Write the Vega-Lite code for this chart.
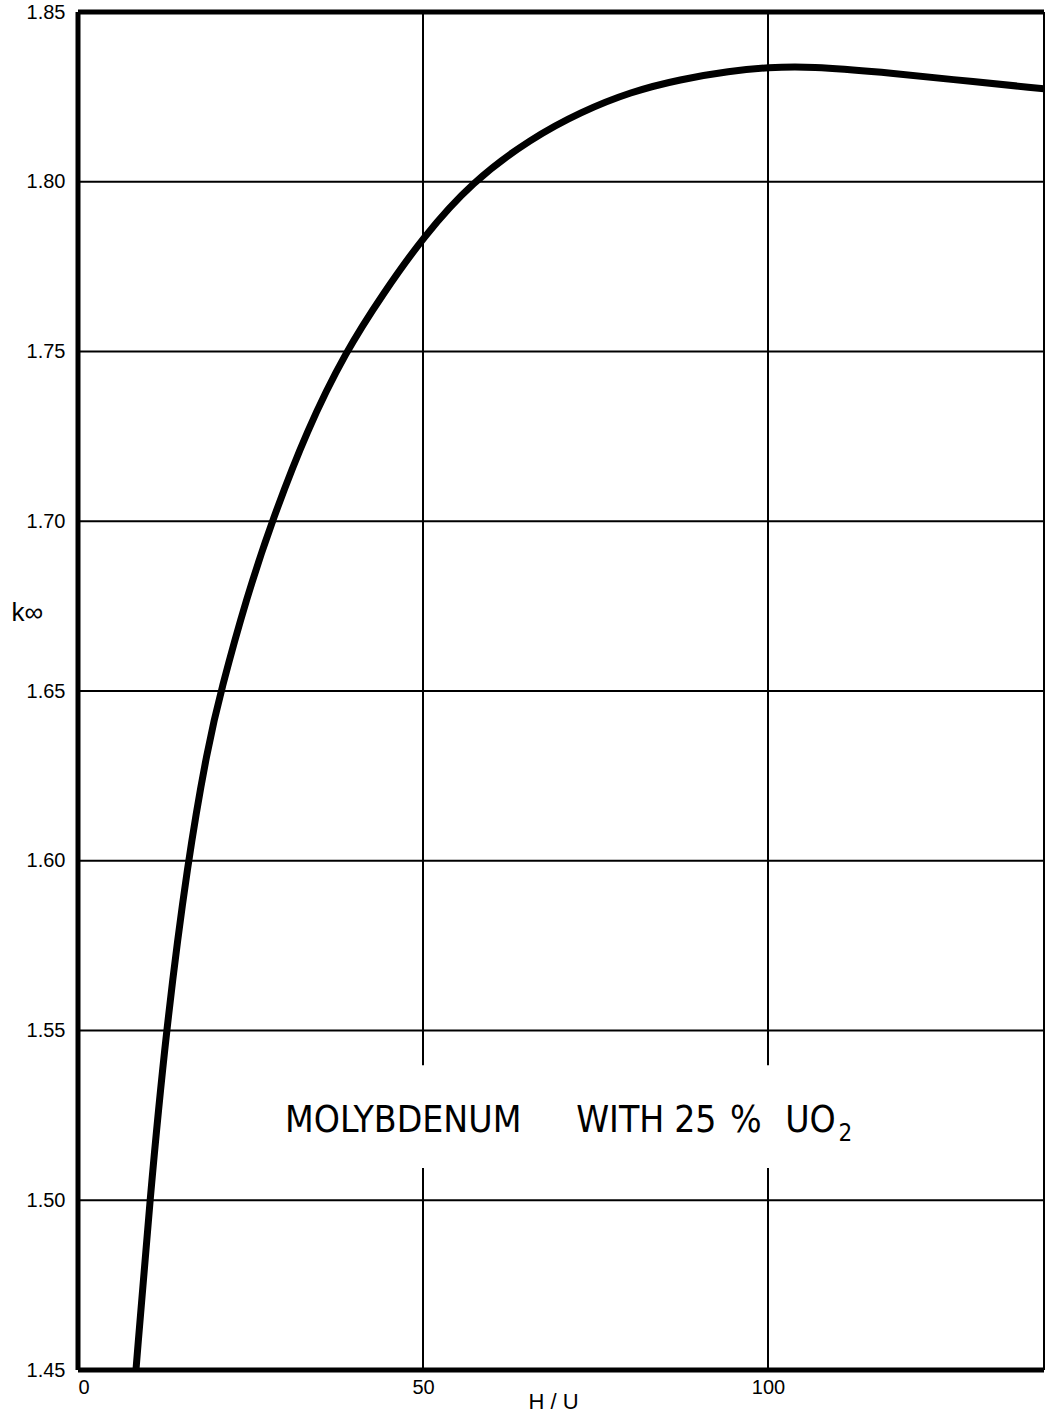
{
  "$schema": "https://vega.github.io/schema/vega-lite/v6.json",
  "width": 966,
  "height": 1358,
  "autosize": {"type": "none"},
  "padding": {"left": 78, "top": 12, "right": 1, "bottom": 42},
  "background": "white",
  "config": {
    "view": {"stroke": null},
    "font": "Liberation Sans",
    "axis": {
      "domain": false, "ticks": false, "grid": false,
      "labelFontSize": 20, "labelColor": "black", "labelFont": "Liberation Sans",
      "titleFontSize": 22, "titleFontWeight": "normal", "titleColor": "black", "titleFont": "Liberation Sans"
    },
    "axisX": {"labelPadding": 7},
    "axisY": {"labelPadding": 13}
  },
  "datasets": {
    "curve": [
      {"hu": 8.4, "k": 1.45},
      {"hu": 10.4, "k": 1.5},
      {"hu": 12.75, "k": 1.55},
      {"hu": 15.9, "k": 1.6},
      {"hu": 18.8, "k": 1.6335},
      {"hu": 20.7, "k": 1.65},
      {"hu": 24.5, "k": 1.678},
      {"hu": 28.1, "k": 1.7},
      {"hu": 33.2, "k": 1.727},
      {"hu": 38.8, "k": 1.75},
      {"hu": 44.2, "k": 1.767},
      {"hu": 50, "k": 1.7837},
      {"hu": 57.1, "k": 1.8},
      {"hu": 65.7, "k": 1.8128},
      {"hu": 72.9, "k": 1.8206},
      {"hu": 80.1, "k": 1.8265},
      {"hu": 87.3, "k": 1.8302},
      {"hu": 94.5, "k": 1.8326},
      {"hu": 100, "k": 1.8337},
      {"hu": 106.1, "k": 1.834},
      {"hu": 116.6, "k": 1.8323},
      {"hu": 126.2, "k": 1.8302},
      {"hu": 140, "k": 1.8274}
    ],
    "hgrid": [{"k": 1.5}, {"k": 1.55}, {"k": 1.6}, {"k": 1.65}, {"k": 1.7}, {"k": 1.75}, {"k": 1.8}],
    "vgrid": [
      {"hu": 50, "k": 1.45, "k2": 1.5095},
      {"hu": 50, "k": 1.5398, "k2": 1.85},
      {"hu": 100, "k": 1.45, "k2": 1.5095},
      {"hu": 100, "k": 1.5398, "k2": 1.85}
    ],
    "frameH": [{"k": 1.85}, {"k": 1.45}],
    "frameV": [{"hu": 0, "w": 5}, {"hu": 140, "w": 2}],
    "labels": [
      {"hu": 30.0, "k": 1.5201, "text": "MOLYBDENUM"},
      {"hu": 72.2, "k": 1.5201, "text": "WITH"},
      {"hu": 86.4, "k": 1.5201, "text": "25"},
      {"hu": 94.5, "k": 1.5201, "text": "%"},
      {"hu": 102.5, "k": 1.5201, "text": "UO"}
    ],
    "subs": [
      {"hu": 110.2, "k": 1.5175, "text": "2"}
    ]
  },
  "layer": [
    {
      "data": {"name": "curve"},
      "mark": {"type": "line", "color": "black", "strokeWidth": 7, "interpolate": "basis", "clip": true},
      "encoding": {
        "x": {
          "field": "hu", "type": "quantitative",
          "scale": {"domain": [0, 140], "nice": false, "zero": false},
          "axis": {
            "values": [0, 50, 100],
            "title": "H / U", "titleX": 475, "titleY": 38, "titleBaseline": "alphabetic"
          }
        },
        "y": {
          "field": "k", "type": "quantitative",
          "scale": {"domain": [1.45, 1.85], "nice": false, "zero": false},
          "axis": {
            "values": [1.45, 1.5, 1.55, 1.6, 1.65, 1.7, 1.75, 1.8, 1.85], "format": ".2f",
            "title": "k∞", "titleFontSize": 26,
            "titleAngle": 0, "titleAlign": "left", "titleBaseline": "middle", "titleX": -67, "titleY": 600
          }
        }
      }
    },
    {
      "data": {"name": "hgrid"},
      "mark": {"type": "rule", "color": "black", "strokeWidth": 2},
      "encoding": {
        "y": {"field": "k", "type": "quantitative"}
      }
    },
    {
      "data": {"name": "vgrid"},
      "mark": {"type": "rule", "color": "black", "strokeWidth": 2},
      "encoding": {
        "x": {"field": "hu", "type": "quantitative"},
        "y": {"field": "k", "type": "quantitative"},
        "y2": {"field": "k2"}
      }
    },
    {
      "data": {"name": "frameH"},
      "mark": {"type": "rule", "color": "black", "strokeWidth": 5},
      "encoding": {
        "y": {"field": "k", "type": "quantitative"}
      }
    },
    {
      "data": {"name": "frameV"},
      "mark": {"type": "rule", "color": "black"},
      "encoding": {
        "x": {"field": "hu", "type": "quantitative"},
        "strokeWidth": {"field": "w", "type": "quantitative", "scale": null, "legend": null}
      }
    },
    {
      "data": {"name": "labels"},
      "mark": {"type": "text", "align": "left", "baseline": "alphabetic", "fontSize": 37, "color": "black", "font": "'Liberation Sans Narrow', 'DejaVu Sans Condensed', sans-serif"},
      "encoding": {
        "x": {"field": "hu", "type": "quantitative"},
        "y": {"field": "k", "type": "quantitative"},
        "text": {"field": "text"}
      }
    },
    {
      "data": {"name": "subs"},
      "mark": {"type": "text", "align": "left", "baseline": "alphabetic", "fontSize": 24, "color": "black", "font": "'Liberation Sans Narrow', 'DejaVu Sans Condensed', sans-serif"},
      "encoding": {
        "x": {"field": "hu", "type": "quantitative"},
        "y": {"field": "k", "type": "quantitative"},
        "text": {"field": "text"}
      }
    }
  ]
}
